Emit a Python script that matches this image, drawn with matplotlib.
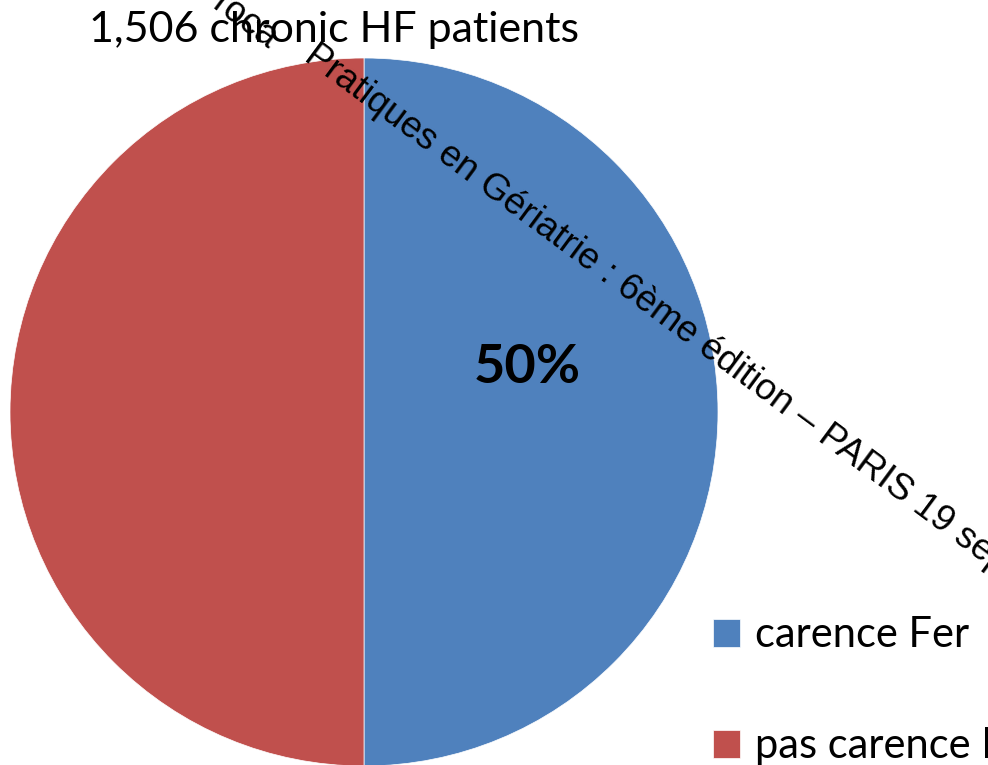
import matplotlib
matplotlib.use("Agg")
import matplotlib.pyplot as plt

# data
labels = ["carence Fer", "pas carence Fer"]
values = [50, 50]
colors = ["#4F81BD", "#C0504D"]
title = "1,506 chronic HF patients"
watermark = "Pratiques en Gériatrie : 6ème édition – PARIS 19 septembre 2013"

W, H = 988, 765
fig = plt.figure(figsize=(W / 100, H / 100), dpi=100)
ax = fig.add_axes([0, 0, 1, 1])
ax.set_xlim(0, W)
ax.set_ylim(0, H)
ax.set_aspect("equal")
ax.axis("off")

# pie
wedges, _ = ax.pie(values, colors=colors, startangle=90, counterclock=False,
                   center=(364, 353), radius=354,
                   wedgeprops=dict(linewidth=0.5, edgecolor="white"))
ax.set_xlim(0, W)
ax.set_ylim(0, H)

ax.text(527, 398, f"{values[0]}%", fontsize=39, fontweight="bold",
        family="Lato", ha="center", va="center")

ax.text(334, 735, title, fontsize=31, family="Lato", ha="center", va="center")

# legend
leg = ax.legend(wedges, labels, loc="upper left", bbox_to_anchor=(0.705, 0.216),
                frameon=False, prop=dict(family="Lato", size=30),
                handlelength=0.65, handleheight=0.65, handletextpad=0.35,
                labelspacing=1.75, borderaxespad=0)

# rotated overlay text
ax.text(303, 705, watermark, rotation=-36.5, rotation_mode="anchor",
        fontsize=26.5, family="Liberation Sans", ha="left", va="baseline")
ax.text(210, 757, "roca", rotation=-36.5, rotation_mode="anchor",
        fontsize=26.5, family="Liberation Sans", ha="left", va="baseline")

fig.savefig("out.png", dpi=100)
